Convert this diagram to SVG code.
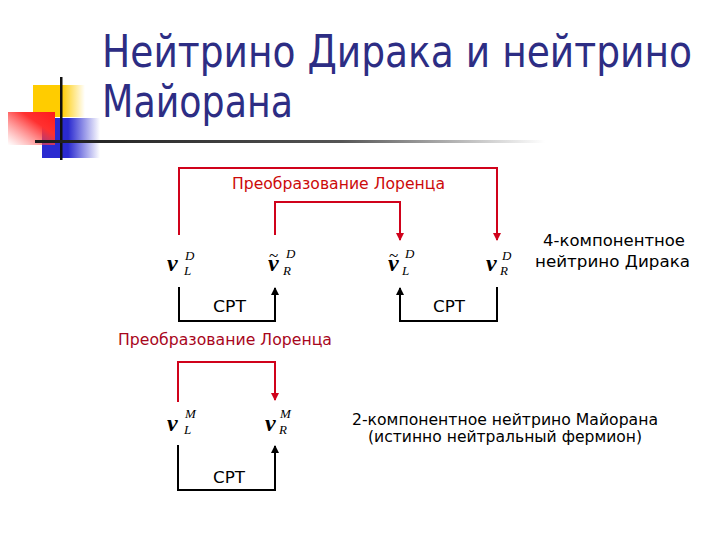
<svg xmlns="http://www.w3.org/2000/svg" width="720" height="540" viewBox="0 0 720 540">
<defs>
<style>
.title{font-family:"DejaVu Sans","Liberation Sans",sans-serif;font-size:44px;fill:#2d2d84}
.lbl{font-family:"DejaVu Sans","Liberation Sans",sans-serif;font-size:15px;fill:#000}
.red{fill:#cc0a0a}
.dred{fill:#a8061c}
.nu{font-family:"Liberation Serif",serif;font-style:italic;font-weight:bold;font-size:24px;fill:#000}
.tl{font-family:"Liberation Serif",serif;font-size:17px;fill:#000}
.sx{font-family:"Liberation Serif",serif;font-style:italic;font-size:13px;fill:#000}
.rl{fill:none;stroke:#d0021b;stroke-width:2}
.bl{fill:none;stroke:#000;stroke-width:2}
</style>
<linearGradient id="gy" x1="0" y1="0" x2="1" y2="0">
<stop offset="0" stop-color="#ffcc00"/><stop offset="0.55" stop-color="#ffcc00"/><stop offset="1" stop-color="#ffcc00" stop-opacity="0"/>
</linearGradient>
<linearGradient id="gb" x1="0" y1="0" x2="1" y2="0">
<stop offset="0" stop-color="#2a2ad0"/><stop offset="0.45" stop-color="#2a2ad0"/><stop offset="1" stop-color="#2a2ad0" stop-opacity="0"/>
</linearGradient>
<linearGradient id="gr" x1="1" y1="0" x2="0" y2="1">
<stop offset="0" stop-color="#ff1a1a"/><stop offset="0.35" stop-color="#ff3030"/><stop offset="1" stop-color="#ff6060" stop-opacity="0"/>
</linearGradient>
<linearGradient id="gu" x1="0" y1="0" x2="1" y2="0">
<stop offset="0" stop-color="#1a1a1a"/><stop offset="0.6" stop-color="#555"/><stop offset="1" stop-color="#fff"/>
</linearGradient>
<marker id="ar" viewBox="0 0 8 8" refX="7" refY="4" markerWidth="8" markerHeight="8" markerUnits="userSpaceOnUse" orient="auto">
<path d="M0,0 L8,4 L0,8 z" fill="#d0021b"/>
</marker>
<marker id="ab" viewBox="0 0 8 8" refX="7" refY="4" markerWidth="8" markerHeight="8" markerUnits="userSpaceOnUse" orient="auto">
<path d="M0,0 L8,4 L0,8 z" fill="#000"/>
</marker>
</defs>
<rect width="720" height="540" fill="#fff"/>
<g id="decor">
<rect x="33" y="85" width="52" height="32" fill="url(#gy)"/>
<rect x="42" y="118" width="58" height="40" fill="url(#gb)"/>
<rect x="8" y="112" width="47" height="33" fill="url(#gr)"/>
<rect x="60" y="77" width="2.5" height="83" fill="#111"/>
<rect x="35" y="140" width="510" height="3" fill="url(#gu)"/>
</g>
<g id="title">
<text class="title" x="102" y="67" textLength="590" lengthAdjust="spacingAndGlyphs">Нейтрино Дирака и нейтрино</text>
<text class="title" x="102" y="117" textLength="191" lengthAdjust="spacingAndGlyphs">Майорана</text>
</g>
<g id="connectors">
<path class="rl" d="M179,235 V168 H497 V240" marker-end="url(#ar)"/>
<path class="rl" d="M275,235 V202 H400 V240" marker-end="url(#ar)"/>
<path class="bl" d="M179,287 V321 H275 V288" marker-end="url(#ab)"/>
<path class="bl" d="M497,287 V321 H400 V288" marker-end="url(#ab)"/>
<path class="rl" d="M178,402 V362 H275 V400" marker-end="url(#ar)"/>
<path class="bl" d="M178,445 V490 H275 V446" marker-end="url(#ab)"/>
</g>
<g id="lorentz-top"><text class="lbl red" x="232" y="189" textLength="213" lengthAdjust="spacingAndGlyphs">Преобразование Лоренца</text></g>
<g id="lorentz-mid"><text class="lbl dred" x="118" y="345" textLength="214" lengthAdjust="spacingAndGlyphs">Преобразование Лоренца</text></g>
<g id="cpt1"><text class="lbl" x="213" y="312" textLength="33" lengthAdjust="spacingAndGlyphs">CPT</text></g>
<g id="cpt2"><text class="lbl" x="433" y="312" textLength="32" lengthAdjust="spacingAndGlyphs">CPT</text></g>
<g id="cpt3"><text class="lbl" x="213" y="483" textLength="32" lengthAdjust="spacingAndGlyphs">CPT</text></g>
<g id="dirac-label">
<text class="lbl" x="543" y="246" textLength="142" lengthAdjust="spacingAndGlyphs">4-компонентное</text>
<text class="lbl" x="535" y="267" textLength="155" lengthAdjust="spacingAndGlyphs">нейтрино Дирака</text>
</g>
<g id="majorana-label">
<text class="lbl" x="352" y="425" textLength="306" lengthAdjust="spacingAndGlyphs">2-компонентное нейтрино Майорана</text>
<text class="lbl" x="368" y="442" textLength="274" lengthAdjust="spacingAndGlyphs">(истинно нейтральный фермион)</text>
</g>
<g id="nuLD">
<text class="nu" x="167" y="271">ν</text>
<text class="sx" x="185" y="260">D</text>
<text class="sx" x="184" y="275">L</text>
</g>
<g id="nuRD-tilde">
<text class="nu" x="268" y="271">ν</text>
<text class="tl" x="269" y="261">~</text>
<text class="sx" x="286" y="258">D</text>
<text class="sx" x="283" y="275">R</text>
</g>
<g id="nuLD-tilde">
<text class="nu" x="388" y="271">ν</text>
<text class="tl" x="389" y="261">~</text>
<text class="sx" x="405" y="258">D</text>
<text class="sx" x="402" y="275">L</text>
</g>
<g id="nuRD">
<text class="nu" x="486" y="271">ν</text>
<text class="sx" x="502" y="260">D</text>
<text class="sx" x="500" y="275">R</text>
</g>
<g id="nuLM">
<text class="nu" x="167" y="431">ν</text>
<text class="sx" x="185" y="418">M</text>
<text class="sx" x="184" y="434">L</text>
</g>
<g id="nuRM">
<text class="nu" x="265" y="431">ν</text>
<text class="sx" x="280" y="418">M</text>
<text class="sx" x="279" y="434">R</text>
</g>
</svg>
